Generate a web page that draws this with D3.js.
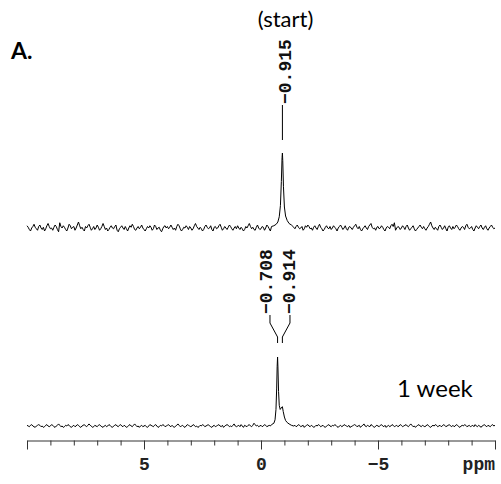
<!DOCTYPE html>
<html><head><meta charset="utf-8">
<script src="https://cdn.jsdelivr.net/npm/d3@7"></script>
<style>body{margin:0;background:#fff}svg{display:block}</style>
</head><body>
<svg id="c" width="501" height="484"></svg>
<script>
// ---- data ----
// noise grid: ppm 10 -> -10, step 0.05 (401 values), intensity units (peak = 100)
const topNoise = [
 3,1,-2,-4,0,2,5,1,-1,-3,2,4,0,-2,1,-4,-1,3,6,2,
 -1,0,-3,1,4,2,-2,-5,7,2,0,3,1,-2,-4,0,5,3,-1,1,
 2,-3,0,4,8,3,-1,1,-2,-4,2,0,3,5,1,-3,-1,2,-2,0,
 4,1,-3,-1,2,6,2,-2,0,-4,-2,1,3,0,-1,2,4,-3,-5,-1,
 1,3,0,-2,2,-1,-4,0,3,1,5,2,-2,-3,0,2,-1,1,4,0,
 -2,-4,-1,2,0,3,1,-3,-1,4,2,-2,0,1,-3,-5,-1,2,3,0,
 2,-1,1,4,1,-2,0,-3,2,5,3,-1,-4,-2,1,0,3,1,-2,2,
 0,-3,-1,3,6,2,0,-2,1,-1,-4,-2,2,4,1,-1,0,3,-2,-4,
 1,2,-1,0,3,5,1,-3,-1,2,0,-2,1,4,2,-1,-3,0,2,-1,
 3,0,-2,1,-1,-4,-2,2,0,3,6,2,-1,1,-2,-3,1,4,0,-2,
 -1,2,1,-3,0,4,2,-1,-4,-1,1,3,0,2,-2,-1,3,5,1,-2,
 0,-3,1,2,-1,3,0,-2,-5,-1,2,4,1,-1,0,2,-3,-1,3,1,
 4,2,-1,0,-3,1,3,0,-2,2,5,1,-1,-4,-2,1,3,0,-1,2,
 -2,0,3,1,-1,-4,0,2,4,1,-2,0,3,-1,-3,1,2,0,-2,1,
 3,5,1,-1,2,-2,-4,-1,1,3,0,-2,2,4,6,1,-1,0,-3,1,
 2,-1,0,3,1,-2,-4,0,2,1,-1,3,5,2,7,-3,0,2,1,-2,
 0,3,1,-2,2,4,0,-3,-1,1,3,-1,-4,-2,0,2,4,1,-1,2,
 -1,-3,0,2,5,8,3,0,-2,1,-1,-3,2,4,1,-2,0,3,-1,-4,
 1,3,0,-2,2,-1,1,4,2,-1,-3,0,2,1,-2,3,5,1,-1,0,
 2,-2,-4,0,3,1,-1,2,4,0,-2,1,3,-1,-3,0,2,4,1,-1,
 0];
const bottomNoise = [
 1,0,-1,1,2,0,-1,-2,0,1,2,1,-1,0,-2,-1,1,2,0,-1,
 0,2,1,-1,-2,0,1,3,1,-1,0,-2,-1,1,0,2,1,-1,-2,0,
 1,-1,0,2,1,-1,-2,0,1,2,0,-1,1,3,1,0,-2,-1,1,0,
 -1,1,2,0,-1,-2,0,1,-1,0,2,1,-1,-2,0,1,2,0,-1,1,
 2,0,-1,1,0,-2,-1,1,2,0,-1,1,3,1,-1,0,-2,0,1,-1,
 0,1,-1,-2,0,2,1,0,-1,1,2,0,-2,-1,1,0,2,1,-1,0,
 1,2,0,-1,1,-1,-2,0,1,3,1,-1,0,1,-1,-2,0,2,1,0,
 -1,0,2,1,-1,0,-2,-1,1,0,2,1,-1,0,1,2,0,-1,-2,0,
 1,-1,0,1,2,0,-1,1,-2,0,1,2,1,-1,0,-1,1,3,0,-1,
 0,1,-1,2,0,-2,1,0,-1,1,2,0,-1,1,4,2,0,1,-1,0,
 1,-1,0,2,1,-1,0,1,0,0,0,0,0,0,0,0,0,0,0,0,
 0,0,0,0,0,0,0,0,0,1,-1,0,2,1,-1,0,1,-2,0,1,
 2,0,-1,1,0,-2,-1,1,0,2,1,-1,0,1,-1,-2,0,1,2,0,
 -1,1,0,2,1,-1,-2,0,1,-1,0,2,1,0,-1,1,-2,-1,0,1,
 2,1,-1,0,1,-2,0,1,3,0,-1,1,0,-1,2,1,-1,-2,0,1,
 0,-1,1,2,0,-1,1,-2,0,1,-1,0,2,1,-1,0,1,-1,0,2,
 1,-1,0,1,2,0,-1,1,3,1,-1,0,-2,0,1,2,0,-1,1,0,
 -1,0,2,1,-1,-2,0,1,0,2,1,-1,0,1,-1,0,2,1,-1,0,
 1,2,0,-1,1,-1,0,2,1,-1,-2,0,1,0,2,1,-1,0,1,-1,
 0,1,-1,2,0,-1,1,0,-2,0,1,2,0,-1,1,0,-1,1,2,0,
 1];
// peak region points [ppm, intensity]
const topPeak = [[-0.45,2],[-0.55,3],[-0.65,5],[-0.72,8],[-0.78,15],[-0.83,30],[-0.87,62],[-0.9,94],[-0.915,100],[-0.93,90],[-0.96,55],[-1.0,28],[-1.05,16],[-1.12,10],[-1.2,6],[-1.3,4],[-1.4,1]];
const bottomPeak = [[-0.45,2],[-0.55,4],[-0.6,9],[-0.64,24],[-0.67,55],[-0.69,86],[-0.708,100],[-0.725,84],[-0.75,50],[-0.78,30],[-0.82,24],[-0.86,26],[-0.914,28],[-0.95,21],[-1.0,13],[-1.05,8],[-1.12,5],[-1.2,3],[-1.3,1],[-1.4,0]];
const topLabels = [-0.915];
const bottomLabels = [-0.708, -0.914];
const axisTicks = d3.range(10, -10.5, -1);
const axisLabels = {"5":"5","0":"0","-5":"\u22125"};

// ---- drawing ----
const svg = d3.select("#c");
const x = d3.scaleLinear().domain([10, -10]).range([27, 495]);
const yTop = d3.scaleLinear().domain([0, 100]).range([228, 153]);
const yBot = d3.scaleLinear().domain([0, 100]).range([426, 357]);

function series(noise, peak) {
  const pts = [];
  noise.forEach((v, i) => {
    const p = +(10 - i * 0.05).toFixed(3);
    if (p > -0.42 || p < -1.42) pts.push([p, v]);
  });
  peak.forEach(d => pts.push(d));
  pts.sort((a, b) => b[0] - a[0]);
  return pts;
}
function drawSpec(data, y) {
  svg.append("path").datum(data)
    .attr("fill", "none").attr("stroke", "#000").attr("stroke-width", 1)
    .attr("stroke-linejoin", "round")
    .attr("d", d3.line().x(d => x(d[0])).y(d => y(d[1])));
}
drawSpec(series(topNoise, topPeak), yTop);
drawSpec(series(bottomNoise, bottomPeak), yBot);

const mono = "'Liberation Mono', 'DejaVu Sans Mono', monospace";
// top label
topLabels.forEach(p => {
  const px = x(p);
  svg.append("line").attr("x1", px).attr("x2", px).attr("y1", 140).attr("y2", 105)
    .attr("stroke", "#000").attr("stroke-width", 1);
  svg.append("text").attr("transform", `translate(${px + 4},104) rotate(-90)`)
    .attr("dominant-baseline", "central").attr("font-family", mono).attr("font-size", 18)
    .attr("font-weight", "bold").attr("fill", "#111").text("\u2212" + Math.abs(p).toFixed(3));
});
// bottom labels
const mid = d3.mean(bottomLabels, p => x(p));
bottomLabels.forEach((p, i) => {
  const px = x(p);
  const lx = mid + (i === 0 ? -10 : 10);
  svg.append("path").attr("fill", "none").attr("stroke", "#000").attr("stroke-width", 1)
    .attr("d", `M${lx},315 L${lx},323 L${px},337 L${px},343`);
  svg.append("text").attr("transform", `translate(${lx + (i === 0 ? -2.5 : 0.5)},314) rotate(-90)`)
    .attr("dominant-baseline", "central").attr("font-family", mono).attr("font-size", 18)
    .attr("font-weight", "bold").attr("fill", "#111").text("\u2212" + Math.abs(p).toFixed(3));
});

// axis
const axis = d3.axisBottom(x).tickValues(axisTicks).tickSizeOuter(0)
  .tickFormat(d => axisLabels[String(d)] || "");
const g = svg.append("g").attr("transform", "translate(0,440.5)").call(axis);
g.select(".domain").attr("stroke", "#333");
g.selectAll(".tick line").attr("stroke", "#333")
  .attr("y2", d => (d % 5 === 0) ? 9 : 5);
g.selectAll(".tick text").attr("y", 17).attr("dy", "0.71em")
  .attr("font-family", mono).attr("font-size", 18).attr("font-weight", "bold").attr("fill", "#222");
svg.append("text").attr("x", 495).attr("y", 470).attr("text-anchor", "end")
  .attr("font-family", mono).attr("font-size", 18).attr("font-weight", "bold").attr("fill", "#222")
  .text("ppm");

// annotations
const sans = "Lato, 'Open Sans', sans-serif";
svg.append("text").attr("x", 285.5).attr("y", 27).attr("text-anchor", "middle")
  .attr("font-family", sans).attr("font-size", 22).text("(start)");
svg.append("text").attr("x", 11).attr("y", 59)
  .attr("font-family", sans).attr("font-weight", "bold").attr("font-size", 23).text("A.");
svg.append("text").attr("x", 397).attr("y", 397)
  .attr("font-family", sans).attr("font-size", 24).text("1 week");
</script>
</body></html>
